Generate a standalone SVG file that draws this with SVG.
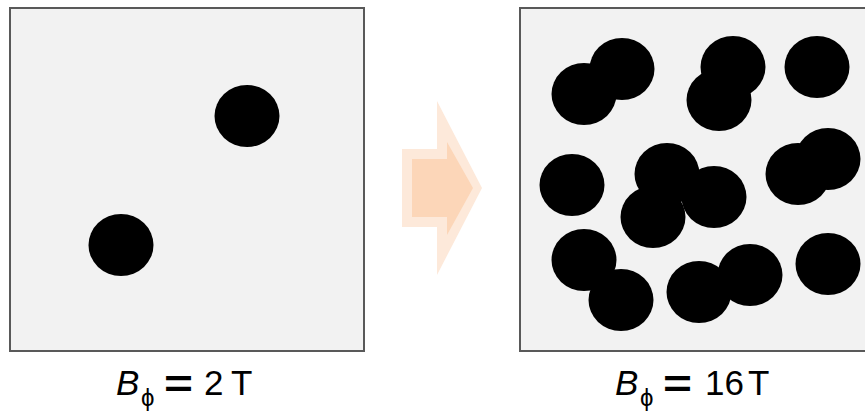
<svg xmlns="http://www.w3.org/2000/svg" width="865" height="413" viewBox="0 0 865 413">
  <style>
    .panel { fill: #f2f2f2; stroke: #595959; stroke-width: 2; }
    .dot { fill: #000000; }
    .lbl { font-family: "Liberation Sans", Arial, sans-serif; font-size: 35px; fill: #000000; }
    .it { font-style: italic; }
    .sub { font-size: 24px; }
    .eq { font-size: 38px; font-weight: bold; }
  </style>
  <defs>
    <ellipse id="vortex" class="dot" rx="32.5" ry="31"/>
  </defs>

  <!-- low field panel -->
  <g id="panel-low">
    <rect class="panel" x="10" y="8" width="354" height="343"/>
    <use href="#vortex" x="247" y="116"/>
    <use href="#vortex" x="121" y="245"/>
  </g>

  <!-- transition arrow -->
  <g id="arrow">
    <polygon points="402,149 437,149 437,101 482,188 437,275 437,227 402,227" fill="#fde9da"/>
    <polygon points="412,159 447,159 447,142 473,188 447,235 447,217 412,217" fill="#fcd6b8"/>
  </g>

  <!-- high field panel -->
  <g id="panel-high">
    <rect class="panel" x="520" y="8" width="356" height="343"/>
    <use href="#vortex" x="584" y="94"/>
    <use href="#vortex" x="622" y="69"/>
    <use href="#vortex" x="733" y="67"/>
    <use href="#vortex" x="719" y="100"/>
    <use href="#vortex" x="817" y="67"/>
    <use href="#vortex" x="572" y="185"/>
    <use href="#vortex" x="667" y="174"/>
    <use href="#vortex" x="653" y="217"/>
    <use href="#vortex" x="714" y="197"/>
    <use href="#vortex" x="798" y="174"/>
    <use href="#vortex" x="828" y="159"/>
    <use href="#vortex" x="584" y="260"/>
    <use href="#vortex" x="621" y="300"/>
    <use href="#vortex" x="699" y="292"/>
    <use href="#vortex" x="750" y="275"/>
    <use href="#vortex" x="828" y="264"/>
  </g>

  <!-- field labels -->
  <g id="label-low">
    <text class="lbl" y="395"><tspan class="it" x="116">B</tspan><tspan class="sub" x="141" y="406">ϕ</tspan><tspan class="eq" x="164" y="397" textLength="29" lengthAdjust="spacingAndGlyphs">=</tspan><tspan x="204" y="395">2</tspan><tspan x="231">T</tspan></text>
  </g>
  <g id="label-high">
    <text class="lbl" y="395"><tspan class="it" x="615">B</tspan><tspan class="sub" x="640" y="406">ϕ</tspan><tspan class="eq" x="663" y="397" textLength="29" lengthAdjust="spacingAndGlyphs">=</tspan><tspan x="705" y="395">16</tspan><tspan x="748">T</tspan></text>
  </g>
</svg>
